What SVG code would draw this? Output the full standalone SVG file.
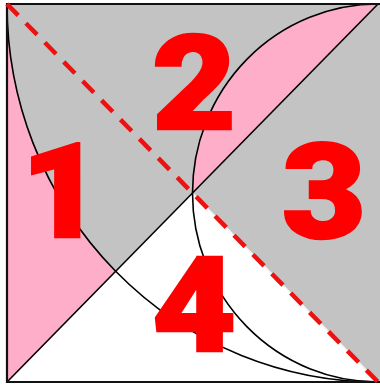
<svg xmlns="http://www.w3.org/2000/svg" width="380" height="388" viewBox="0 0 380 388">
<style>
.ln{fill:none;stroke:#000;stroke-width:1.6}
.bd{fill:none;stroke:#111;stroke-width:2.2}
.num{font-family:Roboto,"Liberation Sans",sans-serif;font-weight:900;font-size:132px;fill:#ff0000;stroke:#ff0000;stroke-width:2.5;stroke-linejoin:miter;text-anchor:middle}
</style>
<rect width="380" height="388" fill="#ffffff"/>
<g id="regions">
<rect x="7" y="4" width="373" height="378" fill="#c3c3c3"/>
<polygon points="7,382 192.5,193 378,382" fill="#ffffff" stroke="#f4f4f4" stroke-width="1.5"/>
<path d="M7,4 A371,378 0 0 0 115.7,271.3 L7,382 Z" fill="#ffaec9"/>
<path d="M192.5,193 A185.5,189 0 0 1 378,4 Z" fill="#ffaec9"/>
</g>
<g id="connectors">
<line class="ln" x1="7" y1="382" x2="378" y2="4"/>
<path class="ln" d="M7,4 A371,378 0 0 0 378,382"/>
<path class="ln" d="M378,4 A185.5,189 0 0 0 192.5,193 A185.5,189 0 0 0 378,382"/>
<path class="bd" d="M380,4 H7 V382 H380"/>
<line x1="7" y1="4" x2="378" y2="382" stroke="#ee1111" stroke-width="4.5" stroke-dasharray="16 11"/>
</g>
<g id="n1"><text class="num" transform="translate(62,237) scale(1.08,1)">1</text></g>
<g id="n2"><text class="num" transform="translate(194,129) scale(1.1,1)">2</text></g>
<g id="n3"><text class="num" transform="translate(324,238) scale(1.1,1)">3</text></g>
<g id="n4"><text class="num" transform="translate(194,351) scale(1.1,1)">4</text></g>
</svg>
